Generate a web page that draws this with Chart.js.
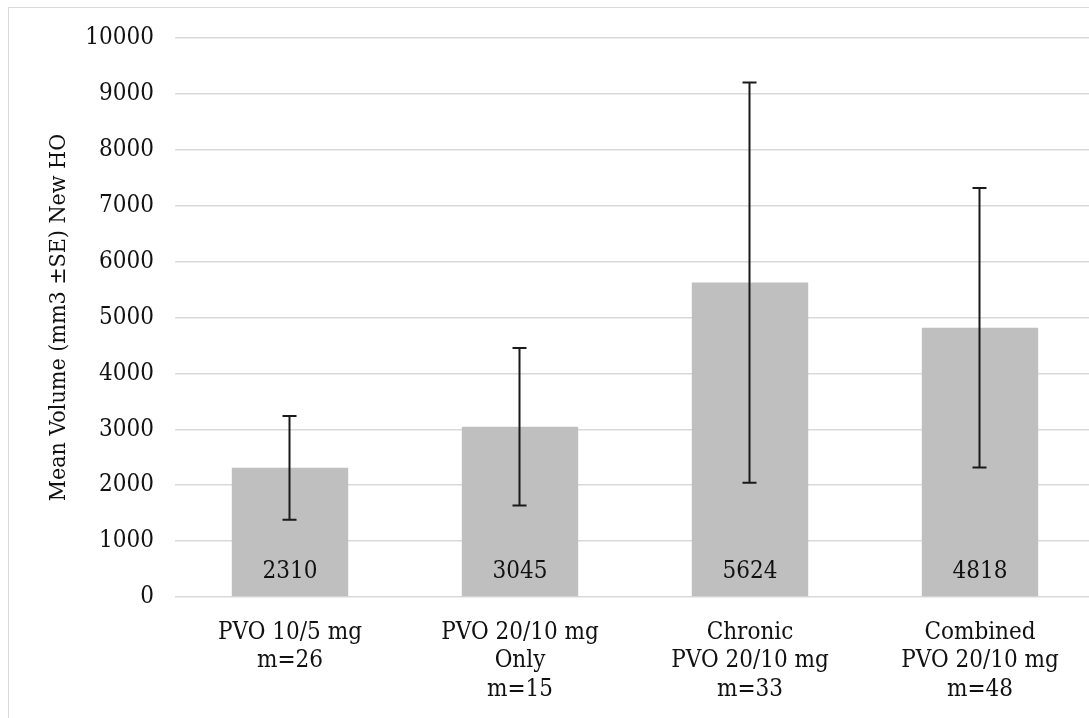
<!DOCTYPE html>
<html>
<head>
<meta charset="utf-8">
<script src="https://cdn.jsdelivr.net/npm/chart.js@4"></script>
<style>
  html, body { margin: 0; padding: 0; background: #fff; overflow: hidden; width: 1089px; height: 718px; }
  #frame { position: absolute; left: 8px; top: 7px; width: 1200px; height: 800px; border: 1.5px solid #d9d9d9; box-sizing: border-box; }
  #wrap { position: absolute; left: 0; top: 0; width: 1095px; height: 718px; }
</style>
</head>
<body>
<div id="frame"></div>
<div id="wrap"><canvas id="chart" width="1095" height="718"></canvas></div>
<script>
// Groups, mean new HO volume and standard error per group
const categories = [
  ["PVO 10/5 mg", "m=26"],
  ["PVO 20/10 mg", "Only", "m=15"],
  ["Chronic", "PVO 20/10 mg", "m=33"],
  ["Combined", "PVO 20/10 mg", "m=48"]
];
const meanVolume = [2310, 3045, 5624, 4818];
const standardError = [930, 1410, 3580, 2500];
const yTickValues = [0, 1000, 2000, 3000, 4000, 5000, 6000, 7000, 8000, 9000, 10000];

const FONT = "'DejaVu Serif Condensed', 'DejaVu Serif', serif";
const TEXT = '#111111';

// ±SE whiskers with caps
const errorBars = {
  id: 'errorBars',
  afterDatasetsDraw(chart) {
    const y = chart.scales.y;
    const meta = chart.getDatasetMeta(0);
    const ctx = chart.ctx;
    ctx.save();
    ctx.strokeStyle = '#1a1a1a';
    ctx.lineWidth = 2;
    meta.data.forEach((bar, i) => {
      const hi = y.getPixelForValue(meanVolume[i] + standardError[i]);
      const lo = y.getPixelForValue(meanVolume[i] - standardError[i]);
      const x = Math.round(bar.x) - 0.5;
      const cap = 7;
      ctx.beginPath();
      ctx.moveTo(x, hi); ctx.lineTo(x, lo);
      ctx.moveTo(x - cap, hi); ctx.lineTo(x + cap, hi);
      ctx.moveTo(x - cap, lo); ctx.lineTo(x + cap, lo);
      ctx.stroke();
    });
    ctx.restore();
  }
};

// Value labels at the inside base of each bar
const baseLabels = {
  id: 'baseLabels',
  afterDatasetsDraw(chart) {
    const meta = chart.getDatasetMeta(0);
    const ctx = chart.ctx;
    ctx.save();
    ctx.font = '24px ' + FONT;
    ctx.fillStyle = TEXT;
    ctx.textAlign = 'center';
    ctx.textBaseline = 'middle';
    meta.data.forEach((bar, i) => {
      ctx.fillText(String(meanVolume[i]), bar.x, bar.base - 24);
    });
    ctx.restore();
  }
};

new Chart(document.getElementById('chart'), {
  type: 'bar',
  data: {
    labels: categories,
    datasets: [{
      data: meanVolume,
      backgroundColor: '#bfbfbf',
      borderWidth: 0,
      categoryPercentage: 1,
      barPercentage: 0.506
    }]
  },
  options: {
    responsive: false,
    animation: false,
    devicePixelRatio: 1,
    layout: { padding: { left: 8, top: 38, right: 0, bottom: 0 } },
    plugins: { legend: { display: false }, tooltip: { enabled: false } },
    scales: {
      x: {
        grid: { display: false, drawTicks: false },
        border: { display: false },
        ticks: {
          color: TEXT,
          font: { family: FONT, size: 24, lineHeight: 1.2 },
          padding: 21,
          maxRotation: 0,
          autoSkip: false
        },
        afterFit(scale) {
          scale.height = 718 - 597;
          scale.paddingLeft = 0; scale.paddingRight = 0;
        }
      },
      y: {
        min: 0,
        max: 10000,
        afterBuildTicks(scale) { scale.ticks = yTickValues.map(v => ({ value: v })); },
        grid: { color: '#d9d9d9', lineWidth: 1.5, drawTicks: false },
        border: { display: false },
        ticks: {
          color: TEXT,
          font: { family: FONT, size: 24 },
          padding: 21,
          callback: v => String(v)
        },
        title: {
          display: true,
          text: 'Mean Volume (mm3 ±SE) New HO',
          color: TEXT,
          font: { family: FONT, size: 23, lineHeight: 1.2 },
          padding: { top: 37, bottom: 0 }
        },
        afterFit(scale) {
          scale.width = 175 - 8;
          scale.paddingTop = 0; scale.paddingBottom = 0;
        }
      }
    }
  },
  plugins: [errorBars, baseLabels]
});
</script>
</body>
</html>
